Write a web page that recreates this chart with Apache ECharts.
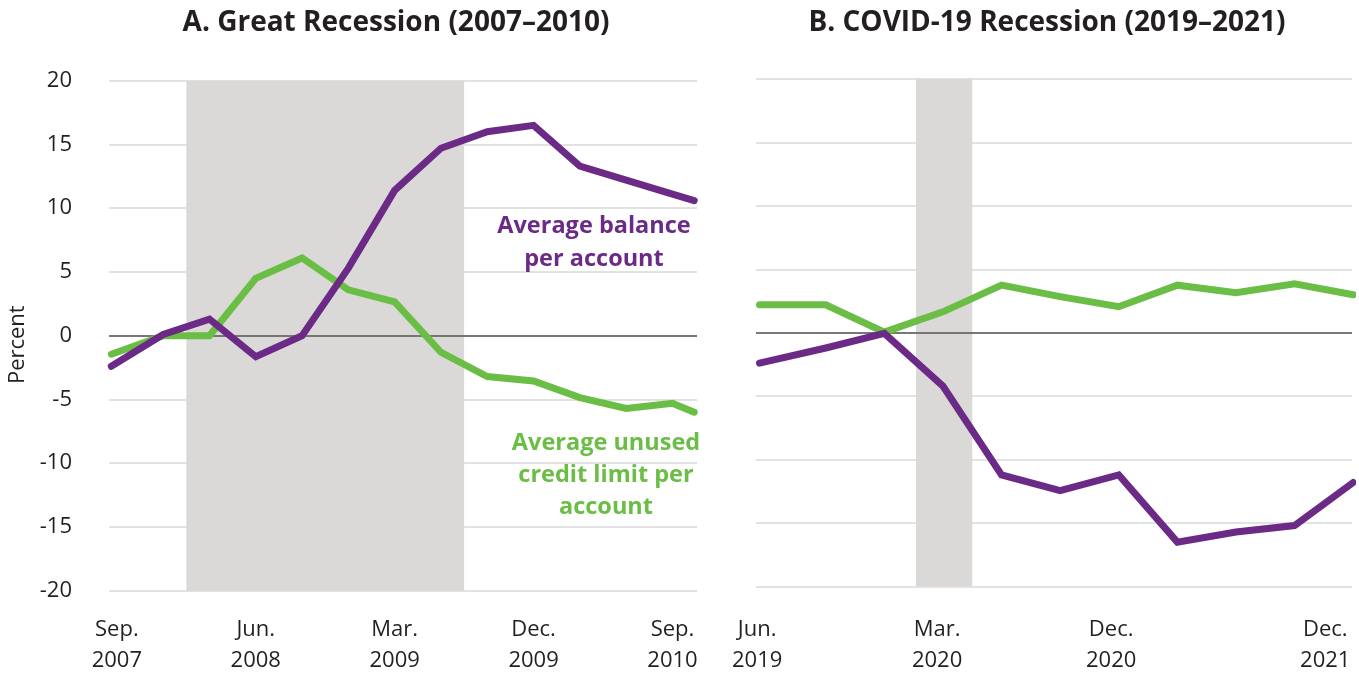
<!DOCTYPE html>
<html>
<head>
<meta charset="utf-8">
<script src="https://cdn.jsdelivr.net/npm/echarts@6/dist/echarts.min.js"></script>
<style>
  html, body { margin: 0; padding: 0; background: #fff; }
  #main { width: 1359px; height: 673px; }
</style>
</head>
<body>
<div id="main"></div>
<script>
// Great Recession, quarterly (0 = Sep. 2007)
const grX = [-0.12, 1, 2, 3, 4, 5, 6, 7, 8, 9, 10, 11, 12, 12.47]
const grBalance = [-2.4, 0.1, 1.3, -1.65, 0.0, 5.3, 11.4, 14.7, 16.0, 16.5, 13.3, 12.2, 11.1, 10.6]
const grUnused = [-1.45, 0.0, 0.0, 4.5, 6.1, 3.6, 2.65, -1.3, -3.2, -3.55, -4.85, -5.7, -5.3, -6.0]
const grTicks = [0, 3, 6, 9, 12]
const grLabels = ['Sep.\n2007', 'Jun.\n2008', 'Mar.\n2009', 'Dec.\n2009', 'Sep.\n2010']
const grShade = [1.5, 7.5]

// COVID-19 Recession, quarterly (0 = Jun. 2019)
const cvX = [-0.13, 1, 2, 3, 4, 5, 6, 7, 8, 9, 10]
const cvBalance = [-2.4, -1.2, -0.05, -4.2, -11.2, -12.45, -11.2, -16.5, -15.7, -15.2, -11.8]
const cvUnused = [2.2, 2.2, 0.05, 1.65, 3.75, 2.85, 2.05, 3.75, 3.15, 3.85, 3.0]
const cvTicks = [-0.17, 2.9, 5.87, 9.95]
const cvLabels = ['Jun.\n2019', 'Mar.\n2020', 'Dec.\n2020', 'Dec.\n2021']
const cvShade = [2.54, 3.5]

const PURPLE = '#6b2a86'
const GREEN = '#6abd45'
const TEXT = '#231f20'
const FONT = '"Open Sans", "Noto Sans", sans-serif'

const zip = (xs, ys) => xs.map((x, i) => [x, ys[i]])

const chart = echarts.init(document.getElementById('main'))

const xAxisFor = (idx, min, max, ticks, labels, margin, lastRight) => ({
  type: 'value',
  gridIndex: idx,
  min: min,
  max: max,
  axisLine: { show: false },
  axisTick: { show: false },
  splitLine: { show: false },
  axisLabel: {
    customValues: ticks,
    margin: margin,
    color: TEXT,
    fontFamily: FONT,
    fontSize: 22,
    lineHeight: 31,
    formatter: (v) => {
      let i = ticks.findIndex(t => Math.abs(t - v) < 1e-6)
      if (i < 0) return ''
      if (lastRight && i === ticks.length - 1) {
        return labels[i].split('\n').map(s => '{r|' + s + '}').join('\n')
      }
      return labels[i]
    },
    rich: {
      r: { fontFamily: FONT, fontSize: 22, lineHeight: 31, color: TEXT, padding: [0, 50, 0, 0] }
    }
  }
})

const yAxisFor = (idx, showLabels) => ({
  type: 'value',
  gridIndex: idx,
  min: -20,
  max: 20,
  interval: 5,
  name: showLabels ? 'Percent' : '',
  nameLocation: 'middle',
  nameRotate: 90,
  nameGap: 80,
  nameTextStyle: { color: TEXT, fontFamily: FONT, fontSize: 22, padding: [0, 18, 0, 0] },
  axisLine: { show: false },
  axisTick: { show: false },
  splitLine: { show: true, lineStyle: { color: '#d9d9d9', width: 1.5 } },
  axisLabel: { show: showLabels, margin: 37, color: TEXT, fontFamily: FONT, fontSize: 22 }
})

const lineSeries = (idx, data, color) => ({
  type: 'line',
  xAxisIndex: idx,
  yAxisIndex: idx,
  data: data,
  symbol: 'none',
  z: 3,
  lineStyle: { color: color, width: 7, cap: 'round', join: 'miter' }
})

const shadeSeries = (idx, range) => ({
  type: 'line',
  xAxisIndex: idx,
  yAxisIndex: idx,
  data: [],
  z: 1,
  silent: true,
  markArea: {
    silent: true,
    itemStyle: { color: '#dad9d8' },
    data: [[{ xAxis: range[0], yAxis: 20 }, { xAxis: range[1], yAxis: -20 }]]
  },
  markLine: {
    silent: true,
    symbol: 'none',
    label: { show: false },
    lineStyle: { color: '#555555', width: 1.5, type: 'solid' },
    data: [{ yAxis: 0 }],
    z: 2
  }
})

const option = {
  animation: false,
  backgroundColor: '#ffffff',
  title: [
    {
      text: 'A. Great Recession (2007–2010)',
      left: 391, top: 4, textAlign: 'center',
      textStyle: { color: TEXT, fontFamily: FONT, fontSize: 28, fontWeight: 'bold' }
    },
    {
      text: 'B. COVID-19 Recession (2019–2021)',
      left: 1042, top: 4, textAlign: 'center',
      textStyle: { color: TEXT, fontFamily: FONT, fontSize: 28, fontWeight: 'bold' }
    }
  ],
  grid: [
    { left: 109, right: 662, top: 80.7, bottom: 82.3, outerBoundsMode: 'none' },
    { left: 756, right: 7, top: 79, bottom: 86.5, outerBoundsMode: 'none' }
  ],
  xAxis: [
    xAxisFor(0, -0.17, 12.53, grTicks, grLabels, 24, false),
    xAxisFor(1, -0.19, 9.98, cvTicks, cvLabels, 28, true)
  ],
  yAxis: [yAxisFor(0, true), yAxisFor(1, false)],
  graphic: [
    {
      type: 'text', x: 594, y: 210, z: 10,
      style: {
        text: 'Average balance\nper account', fill: PURPLE, align: 'center',
        font: 'bold 23.5px ' + FONT, lineHeight: 33
      }
    },
    {
      type: 'text', x: 606, y: 427, z: 10,
      style: {
        text: 'Average unused\ncredit limit per\naccount', fill: GREEN, align: 'center',
        font: 'bold 23.5px ' + FONT, lineHeight: 32
      }
    }
  ],
  series: [
    shadeSeries(0, grShade),
    lineSeries(0, zip(grX, grUnused), GREEN),
    lineSeries(0, zip(grX, grBalance), PURPLE),
    shadeSeries(1, cvShade),
    lineSeries(1, zip(cvX, cvUnused), GREEN),
    lineSeries(1, zip(cvX, cvBalance), PURPLE)
  ]
}

chart.setOption(option)
</script>
</body>
</html>
